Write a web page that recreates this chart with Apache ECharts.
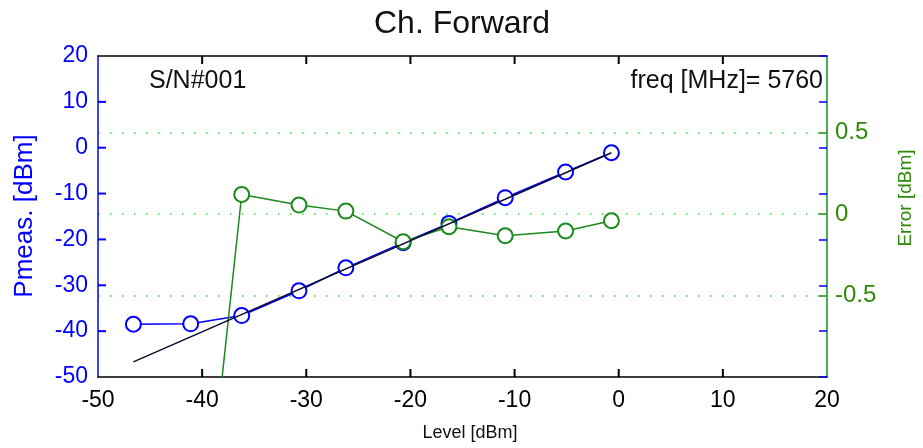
<!DOCTYPE html>
<html>
<head>
<meta charset="utf-8">
<script src="https://cdn.jsdelivr.net/npm/echarts@6/dist/echarts.min.js"></script>
<style>
html,body{margin:0;padding:0;background:#fff;}
#chart{width:923px;height:448px;}
</style>
</head>
<body>
<div id="chart"></div>
<script>
// ---- data ----
const levelDbm = [-46.6, -41.1, -36.2, -30.7, -26.2, -20.7, -16.3, -10.9, -5.1, -0.7];
const pmeasDbm = [-38.5, -38.4, -36.6, -31.2, -26.2, -20.7, -16.5, -10.9, -5.3, -1.1];
const errorDbm = [-4.0, -2.8, 0.12, 0.055, 0.018, -0.17, -0.078, -0.133, -0.104, -0.041];
const fitLevel = [-46.6, -0.7];
const fitPmeas = [-46.7, -1.1];
const xTickValues = [-40, -30, -20, -10, 0, 10];
const yLeftTickValues = [-40, -30, -20, -10, 0, 10];
const rightTicks = [-0.5, 0, 0.5];

const title = 'Ch. Forward';
const xName = 'Level [dBm]';
const yLeftName = 'Pmeas. [dBm]';
const yRightName = 'Error [dBm]';
const serialText = 'S/N#001';
const freqText = 'freq [MHz]= 5760';

const BLUE = '#0000ff';
const GREEN = '#1a8a1a';
const GREEN_TXT = '#2f8a08';
const FONT = 'Liberation Sans, Arial, Helvetica, sans-serif';
const X_MIN = -50, X_MAX = 20, YL_MIN = -50, YL_MAX = 20;
const TICK_LEN = 8;

const zip = (a, b) => a.map((v, i) => [v, b[i]]);

const chart = echarts.init(document.getElementById('chart'), null, {renderer: 'canvas'});

function tickOnly(pos, min, max, interval, color, extraTick) {
  return {
    type: 'value', position: pos, offset: 0, min: min, max: max, interval: interval,
    axisLine: {show: false, onZero: false},
    axisTick: Object.assign({show: true, inside: true, length: TICK_LEN, lineStyle: {color: color, width: 1.5}}, extraTick || {}),
    axisLabel: {show: false},
    splitLine: {show: false}
  };
}

// tick marks on bottom/top (black), positioned through the axis scale
function renderXTicks(params, api) {
  const v = api.value(0);
  const pb = api.coord([v, YL_MIN]);
  const pt = api.coord([v, YL_MAX]);
  const st = {stroke: '#000', lineWidth: 2, fill: null};
  return {type: 'group', children: [
    {type: 'line', shape: {x1: pb[0], y1: pb[1], x2: pb[0], y2: pb[1] - TICK_LEN}, style: st},
    {type: 'line', shape: {x1: pt[0], y1: pt[1], x2: pt[0], y2: pt[1] + TICK_LEN}, style: st}
  ]};
}
// tick marks on the left axis (blue)
function renderYTicks(params, api) {
  const v = api.value(1);
  const p = api.coord([X_MIN, v]);
  return {type: 'line', shape: {x1: p[0], y1: p[1], x2: p[0] + TICK_LEN, y2: p[1]},
    style: {stroke: BLUE, lineWidth: 2, fill: null}};
}

chart.setOption({
  animation: false,
  backgroundColor: '#fff',
  grid: {left: 98, right: 96, top: 56, bottom: 71, containLabel: false},
  xAxis: [
    {
      type: 'value', position: 'bottom', min: X_MIN, max: X_MAX, interval: 10,
      axisLine: {show: true, onZero: false, lineStyle: {color: '#000', width: 1.5}},
      axisTick: {show: false},
      axisLabel: {color: '#000', fontSize: 23, fontFamily: FONT, margin: 12},
      splitLine: {show: false}
    },
    {
      type: 'value', position: 'top', min: X_MIN, max: X_MAX, interval: 10,
      axisLine: {show: true, onZero: false, lineStyle: {color: '#000', width: 1.5}},
      axisTick: {show: false},
      axisLabel: {show: false},
      splitLine: {show: false}
    }
  ],
  yAxis: [
    {
      type: 'value', position: 'left', min: YL_MIN, max: YL_MAX, interval: 10,
      axisLine: {show: true, onZero: false, lineStyle: {color: BLUE, width: 1.5}},
      axisTick: {show: false},
      axisLabel: {color: BLUE, fontSize: 23, fontFamily: FONT, margin: 10, padding: [4, 0, 0, 0]},
      splitLine: {show: false}
    },
    {
      type: 'value', position: 'right', offset: 0, min: -1, max: 0.97, interval: 0.5,
      axisLine: {show: true, onZero: false, lineStyle: {color: GREEN, width: 1.5}},
      axisTick: {show: false},
      axisLabel: {
        color: GREEN_TXT, fontSize: 24, fontFamily: FONT, margin: 8,
        formatter: v => (rightTicks.some(t => Math.abs(t - v) < 1e-9) ? String(v) : '')
      },
      splitLine: {
        show: true, showMinLine: false, showMaxLine: false,
        lineStyle: {color: '#3fcf3f', width: 1.5, type: [1.5, 10.5]}
      }
    },
    tickOnly('right', YL_MIN, YL_MAX, 10, BLUE),
    tickOnly('right', -1, 0.97, 0.5, GREEN, {customValues: rightTicks})
  ],
  series: [
    {
      type: 'custom', coordinateSystem: 'cartesian2d', xAxisIndex: 0, yAxisIndex: 0,
      clip: false, silent: true, z: 10,
      encode: {x: 0, y: 1},
      data: xTickValues.map(v => [v, YL_MIN]),
      renderItem: renderXTicks
    },
    {
      type: 'custom', coordinateSystem: 'cartesian2d', xAxisIndex: 0, yAxisIndex: 0,
      clip: false, silent: true, z: 10,
      encode: {x: 0, y: 1},
      data: yLeftTickValues.map(v => [X_MIN, v]),
      renderItem: renderYTicks
    },
    {
      type: 'line', xAxisIndex: 0, yAxisIndex: 0, data: zip(levelDbm, pmeasDbm),
      symbol: 'emptyCircle', symbolSize: 15, showSymbol: true, clip: true,
      lineStyle: {color: BLUE, width: 1.5},
      itemStyle: {color: BLUE, borderColor: BLUE, borderWidth: 1.6},
      z: 2
    },
    {
      type: 'line', xAxisIndex: 0, yAxisIndex: 1, data: zip(levelDbm, errorDbm),
      symbol: 'emptyCircle', symbolSize: 15, showSymbol: true, clip: true,
      lineStyle: {color: GREEN, width: 1.5},
      itemStyle: {color: GREEN, borderColor: GREEN, borderWidth: 1.6},
      z: 3
    },
    {
      type: 'line', xAxisIndex: 0, yAxisIndex: 0, data: zip(fitLevel, fitPmeas),
      symbol: 'none', clip: true,
      lineStyle: {color: '#0a0a30', width: 1.4},
      z: 4
    }
  ],
  graphic: [
    {type: 'text', x: 462, y: 24,
      style: {text: title, font: '32px ' + FONT, fill: '#111', align: 'center', verticalAlign: 'middle'}},
    {type: 'text', x: 149, y: 81,
      style: {text: serialText, font: '25px ' + FONT, fill: '#111', align: 'left', verticalAlign: 'middle'}},
    {type: 'text', x: 823, y: 81,
      style: {text: freqText, font: '25px ' + FONT, fill: '#111', align: 'right', verticalAlign: 'middle'}},
    {type: 'text', x: 470, y: 433,
      style: {text: xName, font: '18px ' + FONT, fill: '#111', align: 'center', verticalAlign: 'middle'}},
    {type: 'text', x: 25, y: 216, rotation: Math.PI / 2,
      style: {text: yLeftName, font: '26px ' + FONT, fill: BLUE, align: 'center', verticalAlign: 'middle'}},
    {type: 'text', x: 906, y: 198, rotation: Math.PI / 2,
      style: {text: yRightName, font: '19px ' + FONT, fill: GREEN_TXT, align: 'center', verticalAlign: 'middle'}}
  ]
});
</script>
</body>
</html>
